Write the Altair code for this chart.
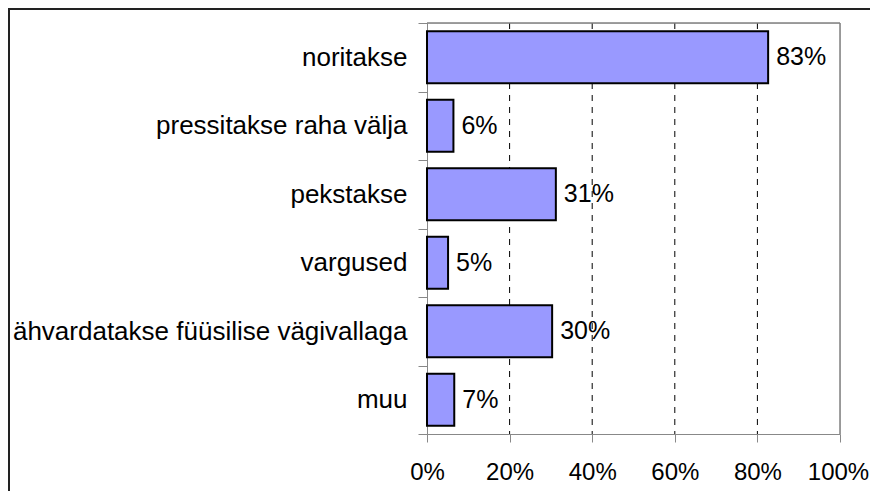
import altair as alt
import pandas as pd

categories = [
    "noritakse",
    "pressitakse raha välja",
    "pekstakse",
    "vargused",
    "ähvardatakse füüsilise vägivallaga",
    "muu",
]
values = [82.6, 6.4, 31.2, 5.1, 30.3, 6.6]
grid_values = [20, 40, 60, 80]
x_ticks = [0, 20, 40, 60, 80, 100]

df = pd.DataFrame({"cat": categories, "val": values})
df["label"] = [f"{v:.0f}%" for v in values]
grid_df = pd.DataFrame({"g": grid_values})

W, H = 413, 411
FONT = "Liberation Sans"

x_scale = alt.Scale(domain=[0, 100], nice=False, zero=True)
y_scale = alt.Scale(paddingInner=0, paddingOuter=0)

grid = alt.Chart(grid_df).mark_rule(color="black", strokeWidth=1, strokeDash=[6, 6]).encode(
    x=alt.X("g:Q", scale=x_scale)
)

one = pd.DataFrame({"a": [0]})
top_line = alt.Chart(one).mark_rule(color="#808080", strokeWidth=1.5).encode(
    x=alt.value(0), x2=alt.value(W), y=alt.value(0)
)
right_line = alt.Chart(one).mark_rule(color="#808080", strokeWidth=1.5).encode(
    x=alt.value(W), y=alt.value(0), y2=alt.value(H)
)

bars = alt.Chart(df).mark_bar(size=52, color="#9999FF", stroke="black", strokeWidth=2).encode(
    x=alt.X(
        "val:Q",
        scale=x_scale,
        axis=alt.Axis(
            title=None,
            values=x_ticks,
            labelExpr="datum.value + '%'",
            grid=False,
            tickSize=8,
            labelPadding=18,
            labelFontSize=24,
            labelOverlap=False,
            labelFlush=False,
            labelOffset={"condition": {"test": "datum.value == 100", "value": -2}, "value": 0},
        ),
    ),
    y=alt.Y(
        "cat:N",
        sort=None,
        scale=y_scale,
        axis=alt.Axis(
            title=None,
            tickBand="extent",
            tickSize=9,
            labelPadding=11,
            labelFontSize=26,
            labelLimit=600,
        ),
    ),
)

texts = alt.Chart(df).mark_text(
    align="left", baseline="middle", dx=8, fontSize=25, font=FONT, color="black"
).encode(
    x=alt.X("val:Q", scale=x_scale),
    y=alt.Y("cat:N", sort=None, scale=y_scale),
    text="label:N",
)

frame = alt.Chart(one).mark_rect(
    filled=False, stroke="#222222", strokeWidth=2
).encode(
    x=alt.value(-418), x2=alt.value(W + 100), y=alt.value(-14), y2=alt.value(H + 100)
)

chart = (
    alt.layer(grid, top_line, right_line, bars, texts, frame)
    .properties(
        width=W,
        height=H,
        autosize=alt.AutoSizeParams(type="none"),
        padding={"left": 419, "top": 15, "right": 30, "bottom": 57},
    )
    .configure_view(stroke="#808080", strokeWidth=1.5)
    .configure_axis(
        labelFont=FONT,
        labelColor="black",
        domainColor="#808080",
        domainWidth=1.5,
        tickColor="#808080",
        tickWidth=1.5,
    )
    .configure(background="white")
)

chart.save("out.html", embed_options={"renderer": "svg", "actions": False})
